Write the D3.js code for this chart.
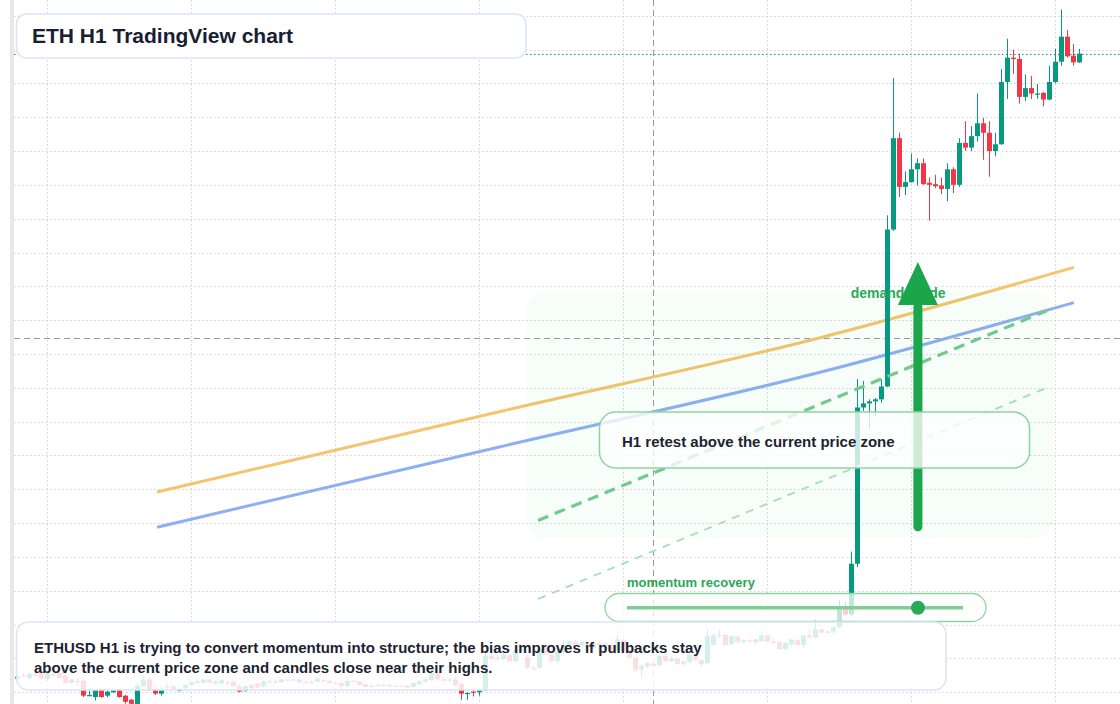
<!DOCTYPE html>
<html><head><meta charset="utf-8">
<script src="https://cdn.jsdelivr.net/npm/d3@7"></script>
<style>html,body{margin:0;padding:0;background:#fff;overflow:hidden}svg{display:block;font-family:"Liberation Sans",Arial,sans-serif}</style>
</head><body><svg id="c" width="1120" height="704"></svg>
<script>
// ---- data (ETHUSD H1 candles, USD) ----
const opens = [2402.0,2402.5,2402.1,2402.6,2402.9,2402.0,2402.7,2402.9,2402.4,2401.4,2401.7,2401.7,2399.5,2399.3,2400.4,2399.5,2400.0,2400.4,2399.5,2398.9,2398.0,2400.9,2401.9,2400.5,2399.8,2400.9,2400.9,2400.2,2400.6,2401.1,2401.4,2401.4,2401.9,2401.3,2401.3,2401.5,2401.6,2400.9,2400.2,2401.1,2401.3,2400.9,2401.6,2401.5,2401.5,2401.9,2401.8,2401.5,2401.6,2401.4,2401.6,2401.8,2401.7,2401.4,2401.4,2400.9,2401.7,2401.6,2401.2,2400.8,2400.9,2401.1,2401.1,2400.9,2401.0,2401.0,2400.8,2401.2,2401.6,2401.8,2402.9,2401.9,2401.8,2401.9,2401.2,2399.8,2400.1,2400.0,2400.3,2405.4,2405.1,2404.9,2405.5,2404.6,2406.3,2405.2,2403.6,2403.6,2406.6,2405.6,2404.6,2406.0,2407.0,2407.5,2406.9,2407.3,2406.6,2407.3,2406.9,2407.0,2406.2,2407.7,2406.1,2405.1,2403.4,2403.8,2404.2,2404.0,2405.4,2404.6,2405.0,2404.2,2404.5,2405.5,2404.8,2404.3,2407.0,2408.4,2408.5,2407.1,2408.2,2407.4,2407.7,2407.4,2407.6,2408.4,2407.5,2407.4,2406.4,2407.1,2407.7,2407.0,2408.4,2408.1,2409.3,2408.8,2409.0,2409.6,2412.4,2411.5,2419.0,2442.1,2442.7,2443.0,2443.3,2445.2,2468.4,2481.9,2474.7,2475.4,2477.3,2478.2,2475.3,2475.1,2474.9,2474.4,2477.3,2475.0,2481.2,2480.5,2482.2,2484.1,2482.7,2480.0,2481.0,2490.2,2493.8,2493.6,2488.0,2489.3,2488.4,2488.6,2487.6,2490.2,2493.2,2496.9,2494.1,2493.1];
const highs = [2402.6,2402.8,2402.9,2402.9,2403.0,2403.0,2402.9,2403.0,2402.6,2402.0,2402.0,2401.9,2400.3,2400.5,2400.5,2400.4,2400.4,2400.5,2399.6,2399.0,2401.4,2402.5,2402.2,2400.9,2400.9,2401.1,2401.1,2400.7,2401.3,2401.6,2401.8,2402.0,2402.0,2401.8,2401.9,2401.7,2401.8,2401.1,2401.0,2401.3,2401.4,2401.8,2401.8,2401.8,2402.0,2402.0,2402.0,2402.0,2401.7,2401.7,2402.1,2401.9,2401.8,2401.5,2401.5,2401.9,2401.8,2401.7,2401.3,2401.0,2401.2,2401.2,2401.2,2401.0,2401.0,2401.0,2401.5,2401.8,2402.2,2403.2,2403.0,2402.3,2402.3,2402.1,2401.5,2400.0,2400.4,2400.4,2405.9,2405.9,2405.6,2405.9,2405.6,2406.6,2407.0,2405.6,2403.9,2406.6,2407.0,2405.7,2406.3,2407.8,2407.8,2407.7,2407.8,2407.4,2407.5,2407.5,2407.4,2407.2,2408.5,2407.9,2406.2,2405.2,2404.2,2404.5,2404.4,2405.6,2405.6,2405.3,2405.1,2404.7,2405.7,2405.6,2404.9,2409.3,2408.7,2409.3,2408.6,2408.4,2408.4,2407.8,2407.9,2407.9,2409.0,2408.5,2407.9,2407.6,2407.4,2407.9,2407.8,2408.5,2409.3,2410.8,2409.4,2409.1,2409.8,2413.6,2413.4,2420.8,2446.3,2446.0,2443.3,2443.5,2446.3,2470.5,2490.8,2482.7,2477.0,2479.6,2478.9,2478.9,2476.1,2476.5,2476.1,2478.2,2477.6,2481.9,2484.4,2483.7,2488.5,2484.9,2484.4,2482.7,2492.1,2496.6,2495.0,2494.4,2491.3,2491.1,2489.9,2488.7,2492.6,2495.1,2500.9,2497.9,2495.8,2495.1];
const lows = [2401.7,2402.2,2401.9,2402.3,2401.9,2401.6,2402.3,2402.0,2401.3,2401.3,2401.1,2399.3,2399.4,2398.8,2399.2,2399.3,2399.9,2399.2,2398.3,2398.2,2397.9,2400.8,2400.2,2399.6,2399.5,2400.5,2400.4,2400.1,2400.5,2401.0,2401.3,2401.3,2401.3,2401.1,2401.1,2401.1,2400.8,2400.0,2400.1,2400.5,2400.5,2400.8,2401.4,2401.4,2401.4,2401.7,2401.7,2401.4,2401.3,2401.3,2401.5,2401.5,2401.3,2401.2,2400.4,2400.8,2401.5,2400.9,2400.7,2400.7,2400.8,2400.9,2400.8,2400.8,2400.8,2400.6,2400.7,2401.0,2401.4,2401.6,2401.7,2401.6,2401.6,2400.9,2398.9,2398.9,2399.4,2399.5,2400.2,2404.8,2404.6,2404.7,2404.5,2404.5,2405.9,2403.4,2403.3,2403.5,2405.4,2404.4,2404.4,2405.6,2406.6,2406.6,2406.8,2406.4,2406.4,2406.8,2406.8,2406.2,2405.8,2406.0,2405.0,2403.0,2402.1,2403.6,2403.8,2403.9,2404.5,2404.5,2404.1,2403.9,2404.3,2404.6,2403.8,2404.2,2406.9,2408.0,2406.9,2407.0,2407.3,2407.3,2407.4,2407.2,2407.4,2407.4,2407.1,2406.3,2406.1,2406.9,2406.9,2406.4,2408.0,2407.9,2408.7,2408.7,2408.7,2409.4,2411.3,2411.2,2418.5,2441.6,2438.9,2440.8,2442.8,2445.1,2468.2,2473.2,2473.5,2475.3,2474.9,2475.0,2469.7,2474.5,2473.6,2472.6,2473.8,2474.7,2480.0,2480.0,2481.4,2478.7,2476.2,2479.2,2480.9,2487.7,2491.4,2487.0,2487.4,2487.7,2487.7,2486.6,2487.5,2490.0,2492.6,2493.8,2492.6,2493.0];
const closes = [2402.3,2402.4,2402.7,2402.5,2402.0,2402.9,2402.5,2402.1,2401.4,2401.9,2401.6,2399.5,2399.6,2400.4,2399.3,2400.1,2400.3,2399.3,2398.6,2398.3,2401.0,2401.9,2400.4,2399.8,2400.4,2400.8,2400.5,2400.5,2401.1,2401.5,2401.6,2401.9,2401.4,2401.6,2401.8,2401.4,2400.9,2400.1,2400.9,2400.6,2400.7,2401.6,2401.5,2401.6,2401.9,2401.8,2401.9,2401.9,2401.4,2401.5,2402.0,2401.7,2401.4,2401.3,2400.9,2401.7,2401.6,2401.1,2400.8,2401.0,2401.1,2401.0,2400.9,2401.0,2400.9,2400.7,2401.4,2401.6,2401.9,2402.9,2401.9,2401.8,2401.9,2401.1,2399.8,2399.9,2400.0,2400.3,2405.4,2404.9,2404.9,2405.6,2404.6,2406.3,2406.2,2403.6,2403.5,2406.3,2405.6,2404.6,2406.0,2407.0,2407.5,2406.8,2407.5,2406.6,2407.3,2406.9,2407.2,2406.3,2407.8,2406.1,2405.1,2403.3,2403.9,2404.3,2403.9,2405.4,2404.6,2405.0,2404.2,2404.6,2405.6,2404.8,2404.2,2408.3,2408.4,2408.5,2407.0,2408.3,2407.4,2407.7,2407.6,2407.8,2408.4,2407.5,2407.4,2406.4,2407.3,2407.8,2407.0,2408.4,2408.1,2409.3,2408.8,2409.0,2409.6,2412.5,2411.5,2419.0,2442.1,2442.7,2443.0,2443.3,2445.2,2468.4,2481.9,2474.7,2475.4,2477.3,2478.2,2475.1,2475.0,2474.8,2474.4,2477.3,2475.0,2481.2,2480.5,2482.2,2484.1,2482.7,2480.0,2481.0,2490.2,2493.8,2493.6,2488.0,2489.3,2488.5,2488.5,2487.6,2490.2,2493.2,2496.9,2494.0,2493.1,2494.4];
const gridPrices = [2400,2405,2410,2415,2420,2425,2430,2435,2440,2445,2450,2455,2460,2465,2470,2475,2480,2485,2490,2495,2500];
const dayStartIndex = [5,29,53,77,101,125,149,173];
const crosshair = {index:106, price:2452.3};
const maFast = [[23.3,2429.6],[80.5,2441.5],[133.8,2452.4],[176.1,2462.8]];
const maSlow = [[23.3,2424.4],[80.5,2436.3],[133.8,2447.3],[176.1,2457.6]];
const trendMain = [[86.8,2425.4],[171.6,2456.4]];
const trendLow = [[86.8,2413.8],[171.8,2445.1]];
const zone = {from:84.9, to:172.6, top:2459.2, bottom:2422.8};
const arrow = {index:150.1, from:2423.8, to:2463.6};
const momentumValue = 0.866;
const titleText = "ETH H1 TradingView chart";
const noteText = ["ETHUSD H1 is trying to convert momentum into structure; the bias improves if pullbacks stay","above the current price zone and candles close near their highs."];
const retestText = "H1 retest above the current price zone";
const zoneLabel = "demand guide";
const momentumLabel = "momentum recovery";

// ---- drawing ----
const W=1120,H=704;
const UP="#089981", DOWN="#f23645";
const x = d3.scaleLinear().domain([0,177]).range([17.3,1079.3]);
const y = d3.scaleLinear().domain([2400,2500]).range([692.3,15.7]);
const svg = d3.select("#c");
svg.append("rect").attr("width",W).attr("height",H).attr("fill","#fff");
svg.append("rect").attr("x",10).attr("y",0).attr("width",4).attr("height",H).attr("fill","#e8e8e8");

// grid via axes
const gy = svg.append("g").attr("transform","translate(14,0)")
  .call(d3.axisRight(y).tickValues(gridPrices).tickSize(W-14).tickFormat(""));
gy.select(".domain").remove();
gy.selectAll(".tick").attr("transform",d=>`translate(0,${Math.round(y(d))+0.5})`);
gy.selectAll(".tick line").attr("stroke","#d2d2d2").attr("stroke-dasharray","1.5,2.5");
const gx = svg.append("g").call(d3.axisBottom(x).tickValues(dayStartIndex).tickSize(H).tickFormat(""));
gx.select(".domain").remove();
gx.selectAll(".tick").attr("transform",d=>`translate(${Math.round(x(d))+0.5},0)`);
gx.selectAll(".tick line").attr("stroke","#d2d2d2").attr("stroke-dasharray","1.5,2.5");

// crosshair
const cx = Math.round(x(crosshair.index))+0.5, cy = Math.round(y(crosshair.price))+0.5;
svg.append("line").attr("x1",cx).attr("x2",cx).attr("y1",0).attr("y2",H).attr("stroke","#9a9a9a").attr("stroke-dasharray","6,4");
svg.append("line").attr("x1",14).attr("x2",W).attr("y1",cy).attr("y2",cy).attr("stroke","#9a9a9a").attr("stroke-dasharray","6,4");

// last price line
const lp = Math.round(y(closes[closes.length-1]))+0.5;
svg.append("line").attr("x1",14).attr("x2",W).attr("y1",lp).attr("y2",lp).attr("stroke",UP).attr("stroke-width",1.2).attr("stroke-dasharray","1.5,2.5");

// moving averages
const lineGen = d3.line().x(d=>x(d[0])).y(d=>y(d[1])).curve(d3.curveMonotoneX);
svg.append("path").attr("d",lineGen(maFast)).attr("fill","none").attr("stroke","#f5c46d").attr("stroke-width",3);
svg.append("path").attr("d",lineGen(maSlow)).attr("fill","none").attr("stroke","#8eaff2").attr("stroke-width",3);

// candles
const candles = opens.map((o,i)=>({i,o,h:highs[i],l:lows[i],c:closes[i]}));
const cg = svg.append("g");
cg.selectAll("line").data(candles).join("line")
  .attr("x1",d=>Math.round(x(d.i))+0.5).attr("x2",d=>Math.round(x(d.i))+0.5)
  .attr("y1",d=>y(d.h)).attr("y2",d=>y(d.l))
  .attr("stroke",d=>d.c>=d.o?UP:DOWN).attr("stroke-width",1);
cg.selectAll("rect").data(candles).join("rect")
  .attr("x",d=>Math.round(x(d.i))-2).attr("width",5)
  .attr("y",d=>Math.min(y(d.o),y(d.c)))
  .attr("height",d=>Math.max(1.2,Math.abs(y(d.o)-y(d.c))))
  .attr("fill",d=>d.c>=d.o?UP:DOWN);

// zone
svg.append("rect").attr("x",x(zone.from)).attr("y",y(zone.top))
  .attr("width",x(zone.to)-x(zone.from)).attr("height",y(zone.bottom)-y(zone.top))
  .attr("rx",18).attr("fill","rgb(34,197,94)").attr("fill-opacity",0.035);

// trend lines
const straight = d3.line().x(d=>x(d[0])).y(d=>y(d[1]));
svg.append("path").attr("d",straight(trendLow)).attr("fill","none").attr("stroke","#a9e0ba").attr("stroke-width",2).attr("stroke-dasharray","8,7");
svg.append("path").attr("d",straight(trendMain)).attr("fill","none").attr("stroke","#72c98d").attr("stroke-width",3.2).attr("stroke-dasharray","11,7");

// zone label
svg.append("text").attr("x",x(zone.from)+324).attr("y",y(zone.top)+6).attr("font-size",14).attr("font-weight","bold").attr("fill","#2aa857").text(zoneLabel);

// arrow
const ax = x(arrow.index);
const headBase = y(arrow.to)+43;
svg.append("line").attr("x1",ax).attr("x2",ax).attr("y1",y(arrow.from)-4.5).attr("y2",headBase+2)
  .attr("stroke","#1ca64c").attr("stroke-width",9).attr("stroke-linecap","round");
svg.append("path").attr("d",`M${ax-20},${headBase}L${ax+20},${headBase}L${ax},${y(arrow.to)}Z`).attr("fill","#1ca64c");

// retest box
svg.append("rect").attr("x",599.5).attr("y",412).attr("width",430).attr("height",56).attr("rx",16)
  .attr("fill","#fff").attr("fill-opacity",0.78).attr("stroke","#8fd3a3").attr("stroke-width",1.5);
svg.append("text").attr("x",622).attr("y",447).attr("font-size",15).attr("font-weight","bold").attr("fill","#1c2331").text(retestText);

// momentum widget
svg.append("text").attr("x",627).attr("y",587).attr("font-size",13).attr("font-weight","bold").attr("fill","#2aa857").text(momentumLabel);
svg.append("rect").attr("x",605).attr("y",593.5).attr("width",381).attr("height",28).attr("rx",14)
  .attr("fill","#fff").attr("fill-opacity",0.75).attr("stroke","#8fd3a3").attr("stroke-width",1.3);
const m = d3.scaleLinear().domain([0,1]).range([627,963]);
svg.append("line").attr("x1",m(0)).attr("x2",m(1)).attr("y1",607.7).attr("y2",607.7).attr("stroke","#7fcf95").attr("stroke-width",3.5);
svg.append("circle").attr("cx",m(momentumValue)).attr("cy",607.7).attr("r",7).attr("fill","#2aa95a");

// bottom note
svg.append("rect").attr("x",16.5).attr("y",622).attr("width",929.5).attr("height",68).attr("rx",12)
  .attr("fill","#fff").attr("fill-opacity",0.84).attr("stroke","#d8e5f8").attr("stroke-width",1.5);
svg.append("text").attr("font-size",15).attr("font-weight","bold").attr("fill","#1c2331")
  .selectAll("tspan").data(noteText).join("tspan").attr("x",34).attr("y",(d,i)=>653.3+i*19.4).text(d=>d);

// title
svg.append("rect").attr("x",16.5).attr("y",14).attr("width",509.5).attr("height",44).attr("rx",10)
  .attr("fill","#fff").attr("stroke","#d8e5f8").attr("stroke-width",1.5);
svg.append("text").attr("x",32).attr("y",43).attr("font-size",21).attr("font-weight","bold").attr("fill","#172033").text(titleText);
</script></body></html>
